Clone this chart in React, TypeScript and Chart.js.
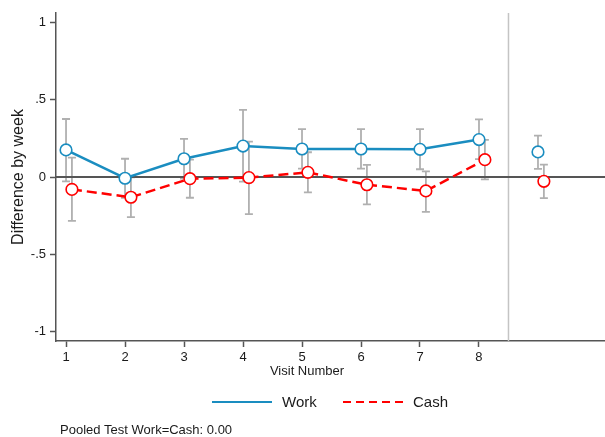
import React, { useEffect, useRef } from "react";
import { Chart, registerables } from "chart.js";

Chart.register(...registerables);

// ---- data ----
const visits = [1, 2, 3, 4, 5, 6, 7, 8];
const xTickLabels = ["1", "2", "3", "4", "5", "6", "7", "8"];
const yTickValues = [-1, -0.5, 0, 0.5, 1];
const yTickLabels = ["-1", "-.5", "0", ".5", "1"];

const workEst = [0.175, -0.008, 0.118, 0.2, 0.181, 0.181, 0.179, 0.242];
const workLo = [-0.028, -0.134, -0.01, -0.03, 0.054, 0.054, 0.05, 0.115];
const workHi = [0.375, 0.118, 0.246, 0.434, 0.31, 0.31, 0.309, 0.373];

const cashEst = [-0.08, -0.131, -0.011, -0.004, 0.03, -0.05, -0.09, 0.112];
const cashLo = [-0.283, -0.259, -0.134, -0.24, -0.1, -0.177, -0.225, -0.015];
const cashHi = [0.125, -0.003, 0.112, 0.228, 0.16, 0.078, 0.037, 0.24];

const cashOffset = 0.1;
const pooledX = 9;
const pooledWork = [0.162];
const pooledWorkLo = [0.052];
const pooledWorkHi = [0.267];
const pooledCash = [-0.028];
const pooledCashLo = [-0.136];
const pooledCashHi = [0.08];
const separatorX = 8.5;

const seriesNames = ["Work", "Cash"];
const footerText = "Pooled Test Work=Cash: 0.00";
const xTitle = "Visit Number";
const yTitle = "Difference by week";

const BLUE = "#1a8dc0";
const RED = "#ff0000";
const GREY = "#b0b0b0";
const AXIS = "#555555";
const FONT = "'Liberation Sans', Arial, Helvetica, sans-serif";

export default function App() {
  const ref = useRef<HTMLCanvasElement | null>(null);

  useEffect(() => {
    if (!ref.current) return;

    const workPts = visits.map((v, i) => ({ x: v, y: workEst[i] }));
    const cashPts = visits.map((v, i) => ({ x: v + cashOffset, y: cashEst[i] }));

    const ciSets = [
      ...visits.map((v, i) => ({ x: v, lo: workLo[i], hi: workHi[i] })),
      ...visits.map((v, i) => ({ x: v + cashOffset, lo: cashLo[i], hi: cashHi[i] })),
      { x: pooledX, lo: pooledWorkLo[0], hi: pooledWorkHi[0] },
      { x: pooledX + cashOffset, lo: pooledCashLo[0], hi: pooledCashHi[0] },
    ];

    const decor = {
      id: "decor",
      beforeDatasetsDraw(chart: any) {
        const { ctx, chartArea, scales } = chart;
        const xs = scales.x;
        const ys = scales.y;
        ctx.save();
        // separator
        const sx = xs.getPixelForValue(separatorX);
        ctx.strokeStyle = "#c4c4c4";
        ctx.lineWidth = 1.5;
        ctx.beginPath();
        ctx.moveTo(sx, chartArea.top);
        ctx.lineTo(sx, chartArea.bottom);
        ctx.stroke();
        // CIs
        ctx.strokeStyle = GREY;
        ctx.lineWidth = 1.8;
        for (const c of ciSets) {
          const px = xs.getPixelForValue(c.x);
          const pl = ys.getPixelForValue(c.lo);
          const ph = ys.getPixelForValue(c.hi);
          ctx.beginPath();
          ctx.moveTo(px, pl);
          ctx.lineTo(px, ph);
          ctx.moveTo(px - 4, pl);
          ctx.lineTo(px + 4, pl);
          ctx.moveTo(px - 4, ph);
          ctx.lineTo(px + 4, ph);
          ctx.stroke();
        }
        // zero line
        const zy = ys.getPixelForValue(0);
        ctx.strokeStyle = AXIS;
        ctx.lineWidth = 2;
        ctx.beginPath();
        ctx.moveTo(chartArea.left, zy);
        ctx.lineTo(chartArea.right, zy);
        ctx.stroke();
        ctx.restore();
      },
      afterDraw(chart: any) {
        const { ctx } = chart;
        ctx.save();
        ctx.fillStyle = "#1a1a1a";
        ctx.textBaseline = "middle";
        // x title
        ctx.font = `13px ${FONT}`;
        ctx.textAlign = "center";
        ctx.fillText(xTitle, 307, 371);
        // legend
        const ly = 402;
        ctx.lineWidth = 2;
        ctx.strokeStyle = BLUE;
        ctx.setLineDash([]);
        ctx.beginPath();
        ctx.moveTo(212, ly);
        ctx.lineTo(272, ly);
        ctx.stroke();
        ctx.strokeStyle = RED;
        ctx.setLineDash([8, 5]);
        ctx.beginPath();
        ctx.moveTo(343, ly);
        ctx.lineTo(403, ly);
        ctx.stroke();
        ctx.setLineDash([]);
        ctx.font = `15px ${FONT}`;
        ctx.textAlign = "left";
        ctx.fillText(seriesNames[0], 282, ly + 1);
        ctx.fillText(seriesNames[1], 413, ly + 1);
        // footer
        ctx.font = `13px ${FONT}`;
        ctx.fillText(footerText, 60, 430);
        ctx.restore();
      },
    };

    const pointOpts = (color: string) => ({
      pointRadius: 5.8,
      pointHoverRadius: 5.8,
      pointBorderWidth: 1.6,
      pointBackgroundColor: "#ffffff",
      pointBorderColor: color,
    });

    const chart = new Chart(ref.current, {
      type: "line",
      data: {
        datasets: [
          {
            label: seriesNames[0],
            data: workPts,
            borderColor: BLUE,
            borderWidth: 2.5,
            tension: 0,
            ...pointOpts(BLUE),
          },
          {
            label: seriesNames[1],
            data: cashPts,
            borderColor: RED,
            borderWidth: 2.5,
            borderDash: [10, 5],
            tension: 0,
            ...pointOpts(RED),
          },
          {
            label: "Pooled " + seriesNames[0],
            data: [{ x: pooledX, y: pooledWork[0] }],
            showLine: false,
            borderColor: BLUE,
            ...pointOpts(BLUE),
          },
          {
            label: "Pooled " + seriesNames[1],
            data: [{ x: pooledX + cashOffset, y: pooledCash[0] }],
            showLine: false,
            borderColor: RED,
            ...pointOpts(RED),
          },
        ],
      },
      options: {
        animation: false,
        responsive: false,
        devicePixelRatio: 1,
        layout: { autoPadding: false, padding: { top: 13, left: 0, right: 0, bottom: 56 } },
        plugins: {
          legend: { display: false },
          tooltip: { enabled: false },
        },
        scales: {
          x: {
            type: "linear",
            min: 0.83,
            max: 10.136,
            afterFit: (s: any) => {
              s.height = 40;
            },
            afterBuildTicks: (s: any) => {
              s.ticks = visits.map((v) => ({ value: v }));
            },
            ticks: {
              autoSkip: false,
              maxRotation: 0,
              color: "#1a1a1a",
              font: { family: FONT, size: 13 },
              padding: 3,
              callback: (_v: any, i: number) => xTickLabels[i],
            },
            grid: {
              drawOnChartArea: false,
              drawTicks: true,
              tickLength: 6,
              tickColor: AXIS,
              tickWidth: 1.5,
            },
            border: { display: true, color: AXIS, width: 1.5 },
          },
          y: {
            type: "linear",
            min: -1.06,
            max: 1.06,
            afterFit: (s: any) => {
              s.width = 56;
            },
            afterBuildTicks: (s: any) => {
              s.ticks = yTickValues.map((v) => ({ value: v }));
            },
            ticks: {
              autoSkip: false,
              color: "#1a1a1a",
              font: { family: FONT, size: 13 },
              padding: 4,
              callback: (_v: any, i: number) => yTickLabels[i],
            },
            title: {
              display: true,
              text: yTitle,
              color: "#1a1a1a",
              font: { family: FONT, size: 16 },
              padding: { top: 9, bottom: 0 },
            },
            grid: {
              drawOnChartArea: false,
              drawTicks: true,
              tickLength: 6,
              tickColor: AXIS,
              tickWidth: 1.5,
            },
            border: { display: true, color: AXIS, width: 1.5 },
          },
        },
      },
      plugins: [decor],
    } as any);

    return () => chart.destroy();
  }, []);

  return (
    <div style={{ position: "absolute", left: 0, top: 0, width: 605, height: 437, background: "#fff" }}>
      <canvas ref={ref} width={605} height={437} style={{ display: "block" }} />
    </div>
  );
}
